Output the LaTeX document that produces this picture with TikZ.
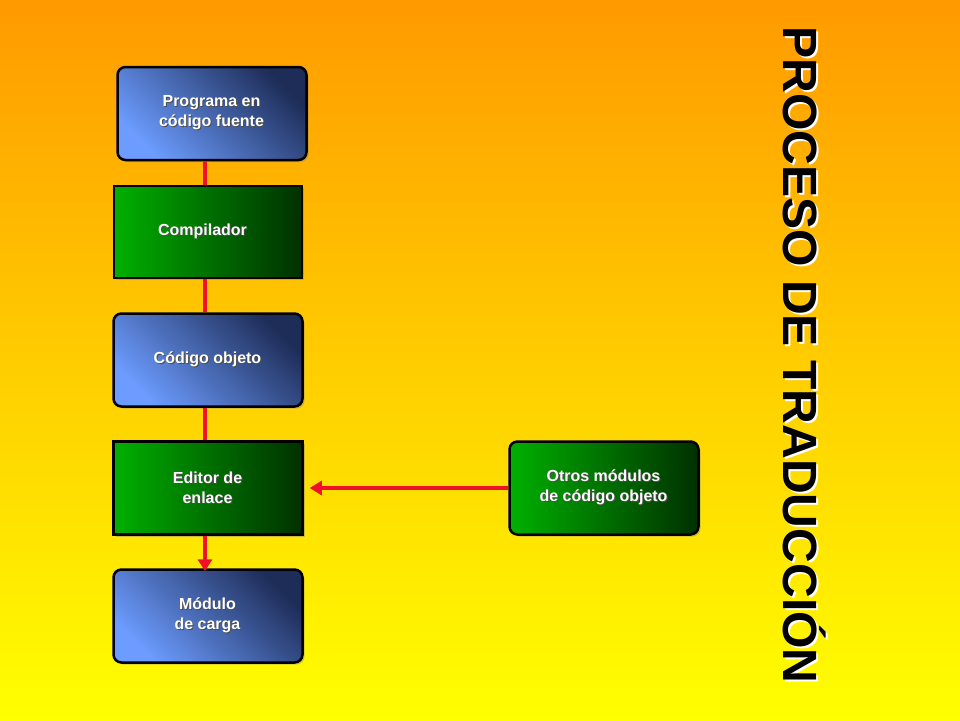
\documentclass[tikz,border=0pt]{standalone}
\usepackage{fontspec}
\setmainfont{Liberation Sans}
\usetikzlibrary{shadows,arrows.meta}
\definecolor{bgtop}{HTML}{FF9A00}
\definecolor{bgbot}{HTML}{FFFF00}
\definecolor{blA}{HTML}{6C9CFF}
\definecolor{blB}{HTML}{1E2D58}
\definecolor{grA}{HTML}{00B000}
\definecolor{grB}{HTML}{003000}
\definecolor{lnred}{HTML}{F0102A}
\newcommand{\shtext}[1]{\tikz[baseline]{\node[inner sep=0,align=center,text=black!70,font=\bfseries\fontsize{16}{20}\selectfont] at (1pt,-1pt){#1};\node[inner sep=0,align=center,text=white,font=\bfseries\fontsize{16}{20}\selectfont] at (0,0){#1};}}
\tikzset{
 x=1pt,y=-1pt,
 boxb/.style={draw=black,line width=2.5pt,rounded corners=8pt,minimum width=188pt,minimum height=92pt,inner sep=0,
   left color=blA,right color=blB,shading angle=135,drop shadow={shadow xshift=2pt,shadow yshift=-2pt,opacity=0.4}},
 boxg/.style={boxb,left color=grA,right color=grB},
 boxgs/.style={boxg,rounded corners=0pt},
 link/.style={draw=lnred,line width=4pt},
}
\begin{document}
\begin{tikzpicture}
\shade[top color=bgtop,bottom color=bgbot] (0,0) rectangle (960,720);
\useasboundingbox (0,0) rectangle (960,720);
\node[boxb] (a) at (212,113.5) {\shtext{Programa en\\código fuente}};
\node[boxgs] (b) at (208,232) {};
\node (bt) at (203,232) {\shtext{Compilador}};
\node[boxb] (c) at (208,360) {\shtext{Código objeto}};
\node[boxgs] (d) at (208,488) {\shtext{Editor de\\enlace}};
\node[boxb] (e) at (208,616) {\shtext{Módulo\\de carga}};
\node[boxg] (f) at (604,488) {\shtext{Otros módulos\\de código objeto}};
\draw[link] (a.south -| 205,0) -- (b.north -| 205,0);
\draw[link] (b.south -| 205,0) -- (c.north -| 205,0);
\draw[link] (c.south -| 205,0) -- (d.north -| 205,0);
\draw[link,-{Triangle[length=12pt,width=14pt]}] (d.south -| 205,0) -- ([yshift=-3pt]e.north -| 205,0);
\draw[link,-{Triangle[length=12pt,width=14pt]}] (f.west) -- ([xshift=6pt]d.east);
\node[rotate=-90,text=white] (ts) at (807,357) {\resizebox{657pt}{!}{\bfseries PROCESO DE TRADUCCIÓN}};
\node[rotate=-90,text=black] (t) at (805,355) {\resizebox{657pt}{!}{\bfseries PROCESO DE TRADUCCIÓN}};
\end{tikzpicture}
\end{document}
